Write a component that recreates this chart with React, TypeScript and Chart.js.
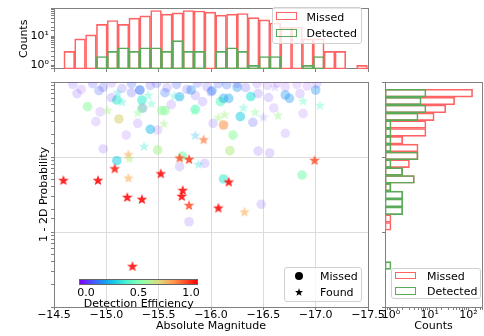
import React, { useEffect, useRef } from 'react';
import { Chart, registerables } from 'chart.js';

Chart.register(...registerables);

// ---------------- data ----------------
const magTickValues = [-14.5, -15.0, -15.5, -16.0, -16.5, -17.0, -17.5];
const efficiencyTickLabels = ['0.0', '0.5', '1.0'];

// Found (stars): magnitude, 1 - 2D probability, detection efficiency
const foundMag = [-14.59, -14.92, -15.08, -15.21, -15.2, -15.34, -15.52, -15.73, -15.72, -15.79,
  -15.7, -15.79, -15.88, -15.93, -15.36, -15.21, -15.22, -15.85, -16.17, -16.07,
  -16.32, -16.99, -15.25, -15.01, -15.11, -15.15, -15.3, -15.4, -15.43, -15.55,
  -15.65, -15.7, -15.84, -16.31, -16.07, -16.13, -16.42, -16.5, -16.64, -16.88,
  -17.04, -16.61];
const foundProb = [0.0493, 0.0493, 0.0706, 0.053, 0.0293, 0.0275, 0.0605, 0.0363, 0.0302, 0.0229,
  0.098, 0.094, 0.0807, 0.172, 0.14, 0.1087, 0.096, 0.196, 0.0469, 0.0211,
  0.0187, 0.0912, 0.00352, 0.424, 0.73, 0.547, 0.394, 0.671, 0.52, 0.281,
  0.658, 0.637, 0.415, 0.459, 0.338, 0.371, 0.402, 0.345, 0.363, 0.564,
  0.493, 0.866];
const foundEff = [1.0, 1.0, 0.97, 0.76, 1.0, 1.0, 1.0, 1.0, 1.0, 0.9,
  0.9, 0.93, 0.33, 0.85, 0.38, 0.76, 0.62, 0.25, 1.0, 1.0,
  0.76, 0.9, 1.0, 0.6, 0.3, 0.38, 0.55, 0.4, 0.45, 0.6,
  0.36, 0.36, 0.5, 0.4, 0.6, 0.6, 0.55, 0.1, 0.58, 0.45,
  0.45, 0.05];

// Missed (circles)
const missedMag = [
  -14.82, -15.12, -15.1, -15.34, -15.34, -15.53, -15.56, -15.42, -15.7, -15.81,
  -16.01, -16.09, -16.12, -16.17, -16.28, -16.12, -16.21, -16.4, -16.71, -16.75,
  -17.0, -16.38, -16.25, -15.1, -14.97, -15.49, -15.73, -15.7, -15.94, -15.79,
  -16.48, -16.12, -16.87, -16.18, -16.45, -16.56, -15.85, -15.56,
  -14.68, -14.76, -14.87, -14.97, -15.05, -15.15, -15.24, -15.32, -15.42, -15.48,
  -15.58, -15.67, -15.77, -15.87, -15.96, -16.07, -16.15, -16.25, -16.33, -16.44,
  -16.54, -16.63, -16.71, -16.82, -16.92, -17.01,
  -14.72, -14.93, -15.05, -15.24, -15.32, -15.85, -16.0, -16.45, -16.55, -16.85,
  -14.94, -14.9, -15.19, -15.3, -15.49, -15.92, -15.62, -16.02, -16.71, -16.6, -16.88, -15.35];
const missedProb = [
  0.469, 0.321, 0.575, 0.575, 0.446, 0.415, 0.415, 0.234, 0.637, 0.782,
  0.766, 0.547, 0.605, 0.605, 0.345, 0.267, 0.196, 0.29, 0.671, 0.605,
  0.782, 0.64, 0.85, 0.0893, 0.128, 0.124, 0.103, 0.0743, 0.0824, 0.0137,
  0.0234, 0.051, 0.0575, 0.1216, 0.12, 0.113, 0.432, 0.72,
  0.93, 0.8, 0.95, 0.85, 0.97, 0.82, 0.95, 0.78, 0.9, 0.96,
  0.84, 0.93, 0.8, 0.97, 0.87, 0.95, 0.92, 0.96, 0.84, 0.95,
  0.9, 0.97, 0.86, 0.93, 0.88, 0.95,
  0.7, 0.766, 0.62, 0.72, 0.782, 0.66, 0.74, 0.7, 0.62, 0.7,
  0.4, 0.296, 0.196, 0.281, 0.229, 0.547, 0.5, 0.281, 0.207, 0.45, 0.38, 0.45];
const missedEff = [
  0.55, 0.68, 0.38, 0.38, 0.52, 0.55, 0.55, 0.25, 0.2, 0.2,
  0.2, 0.45, 0.22, 0.22, 0.3, 0.8, 0.55, 0.1, 0.2, 0.2,
  0.2, 0.35, 0.2, 0.3, 0.05, 0.6, 0.5, 0.05, 0.05, 0.05,
  0.05, 0.38, 0.5, 0.62, 0.05, 0.05, 0.45, 0.15,
  0.05, 0.03, 0.08, 0.1, 0.04, 0.06, 0.12, 0.15, 0.08, 0.1,
  0.05, 0.12, 0.07, 0.09, 0.06, 0.1, 0.14, 0.05, 0.08, 0.04,
  0.03, 0.02, 0.03, 0.02, 0.02, 0.03,
  0.05, 0.12, 0.06, 0.1, 0.15, 0.05, 0.08, 0.06, 0.05, 0.04,
  0.03, 0.03, 0.03, 0.04, 0.03, 0.05, 0.04, 0.05, 0.03, 0.03, 0.03, 0.04];

// Top histogram (absolute magnitude bins)
const magBinCenters = [-14.646, -14.749, -14.853, -14.957, -15.06, -15.164, -15.267, -15.371, -15.475, -15.578,
  -15.682, -15.785, -15.889, -15.993, -16.096, -16.2, -16.303, -16.407, -16.511, -16.614,
  -16.718, -16.821, -16.925, -17.029, -17.132, -17.236, -17.339, -17.443];
const magMissedCounts = [3, 8, 11, 25, 34, 25, 41, 49, 75, 56,
  62, 75, 72, 66, 52, 56, 59, 43, 36, 28,
  20, 20, 8, 8, 3, 3, 0, 1];
const magDetectedCounts = [0, 0, 0, 2, 3, 4, 3, 4, 4, 3,
  7, 3, 3, 0, 3, 4, 3, 1, 2, 2,
  0, 0, 1, 2, 0, 0, 0, 0];

// Right histogram (1 - 2D probability bins)
const probBinCenters = [0.7096, 0.5572, 0.4385, 0.3443, 0.271, 0.2128, 0.1675, 0.1318, 0.1035, 0.08147,
  0.06397, 0.05035, 0.03954, 0.03112, 0.02443, 0.01923, 0.01514, 0.01189, 0.00935, 0.00735,
  0.00578, 0.00454, 0.00357];
const probMissedCounts = [128, 44, 26, 13, 8, 8, 2, 5, 5, 3,
  2, 4, 1, 0, 0, 0, 1, 1, 0, 0,
  0, 0, 0];
const probDetectedCounts = [8, 6, 8, 5, 1, 1, 1, 1, 5, 1,
  2, 4, 1, 2, 2, 2, 0, 0, 0, 0,
  0, 0, 1];

// ---------------- helpers ----------------
const FAMILY = "'DejaVu Sans', sans-serif";
const FONT = { family: FAMILY, size: 11 };
const AX = '#808080';
const GRID = '#dcdcdc';
const RED_EDGE = 'rgb(255,100,100)';
const GREEN_EDGE = 'rgb(90,170,90)';

Chart.defaults.font.family = FAMILY;
Chart.defaults.font.size = 11;
Chart.defaults.color = '#000';

function rainbow(t: number): number[] {
  const r = Math.min(1, Math.abs(2 * t - 0.5));
  const g = Math.sin(Math.PI * t);
  const b = Math.cos((Math.PI * t) / 2);
  return [r, g, b].map((c) => Math.round(Math.max(0, Math.min(1, c)) * 255));
}
function rgba(t: number, a: number) {
  const [r, g, b] = rainbow(t);
  return `rgba(${r},${g},${b},${a.toFixed(3)})`;
}
const circleAlpha = (e: number) => Math.min(0.6, 0.1 + e * 1.4);
const starAlpha = (e: number) => (e >= 0.88 ? 0.85 : Math.min(0.7, 0.12 + e * 0.65));

const starCache = new Map<string, HTMLCanvasElement>();
function starImage(color: string, R = 5.6): HTMLCanvasElement {
  const key = color + R;
  const cached = starCache.get(key);
  if (cached) return cached;
  const c = document.createElement('canvas');
  const s = Math.ceil(R * 2 + 2);
  c.width = s;
  c.height = s;
  const g = c.getContext('2d')!;
  const r = R * 0.42;
  const cx = s / 2;
  const cy = s / 2 + R * 0.1;
  g.beginPath();
  for (let i = 0; i < 10; i++) {
    const rad = i % 2 === 0 ? R : r;
    const a = -Math.PI / 2 + (i * Math.PI) / 5;
    const px = cx + rad * Math.cos(a);
    const py = cy + rad * Math.sin(a);
    if (i === 0) g.moveTo(px, py);
    else g.lineTo(px, py);
  }
  g.closePath();
  g.fillStyle = color;
  g.fill();
  starCache.set(key, c);
  return c;
}

const isPow10 = (v: number) => {
  const l = Math.log10(v);
  return Math.abs(l - Math.round(l)) < 1e-6;
};
const minusFmt = (v: number) => (v < 0 ? '\u2212' : '') + Math.abs(v).toFixed(1);
const supDigits = ['\u2070', '\u00b9', '\u00b2', '\u00b3'];
const powLabel = (v: number) => {
  if (!isPow10(v)) return '';
  const e = Math.round(Math.log10(v));
  return e >= 0 && e < 4 ? '10' + supDigits[e] : '';
};

const frameAxes = () => ({
  xTop: {
    type: 'linear', position: 'top', min: 0, max: 1,
    ticks: { display: false },
    grid: { drawOnChartArea: false, drawTicks: false },
    border: { color: AX, width: 1 },
    afterFit: (s: any) => { s.height = 0; },
  },
  yRight: {
    type: 'linear', position: 'right', min: 0, max: 1,
    ticks: { display: false },
    grid: { drawOnChartArea: false, drawTicks: false },
    border: { color: AX, width: 1 },
    afterFit: (s: any) => { s.width = 0; },
  },
});

const commonOpts = {
  responsive: false,
  animation: false,
  events: [] as any[],
  plugins: { legend: { display: false }, tooltip: { enabled: false } },
};

function mainConfig(): any {
  return {
    type: 'scatter',
    data: {
      datasets: [
        {
          label: 'Found',
          data: foundMag.map((m, i) => ({ x: m, y: foundProb[i] })),
          pointStyle: foundEff.map((e) => starImage(rgba(e, starAlpha(e)))),
          pointRadius: 5,
          pointHoverRadius: 5,
          order: 0,
        },
        {
          label: 'Missed',
          data: missedMag.map((m, i) => ({ x: m, y: missedProb[i] })),
          pointStyle: 'circle',
          pointRadius: 4.8,
          pointHoverRadius: 4.8,
          pointBackgroundColor: missedEff.map((e) => rgba(e, circleAlpha(e))),
          pointBorderWidth: 0,
          pointBorderColor: 'rgba(0,0,0,0)',
          order: 1,
        },
      ],
    },
    options: {
      ...commonOpts,
      layout: { padding: { left: 38, top: 82, right: 116, bottom: 0 } },
      scales: {
        x: {
          type: 'linear', position: 'bottom', min: -17.5, max: -14.5, reverse: true,
          afterBuildTicks: (s: any) => { s.ticks = magTickValues.map((v) => ({ value: v })); },
          ticks: { callback: (v: any) => minusFmt(Number(v)), autoSkip: false, maxRotation: 0, padding: -1, font: FONT, color: '#000' },
          grid: {
            color: (c: any) => (c.tick && c.tick.value > -17.49 && c.tick.value < -14.51 ? GRID : 'rgba(0,0,0,0)'),
            lineWidth: 1, tickLength: 3, tickColor: AX,
          },
          border: { color: AX, width: 1 },
          title: { display: true, text: 'Absolute Magnitude', font: FONT, color: '#000', padding: { top: 0, bottom: 3 } },
          afterFit: (s: any) => { s.height = 29; },
        },
        y: {
          type: 'logarithmic', position: 'left', min: 0.001, max: 1,
          ticks: { callback: () => '', autoSkip: false },
          grid: {
            color: (c: any) => {
              const v = c.tick ? c.tick.value : 0;
              return v && isPow10(v) && v > 0.0011 && v < 0.99 ? GRID : 'rgba(0,0,0,0)';
            },
            lineWidth: 1, tickLength: 3, tickColor: AX,
          },
          border: { color: AX, width: 1 },
          title: { display: true, text: '1 - 2D Probability', font: FONT, color: '#000', padding: { top: 0, bottom: 0 } },
          afterFit: (s: any) => { s.width = 16; },
        },
        ...frameAxes(),
      },
    },
  };
}

const histDataset = (label: string, color: string, order: number, data: any[]) => ({
  label,
  data,
  borderColor: color,
  backgroundColor: 'rgba(0,0,0,0)',
  borderWidth: 1,
  borderSkipped: false,
  grouped: false,
  barPercentage: 1,
  categoryPercentage: 1,
  order,
});

function topConfig(): any {
  const missed = magBinCenters.map((c, i) => ({ x: c, y: magMissedCounts[i] })).filter((d) => d.y > 0);
  const detected = magBinCenters.map((c, i) => ({ x: c, y: magDetectedCounts[i] })).filter((d) => d.y > 0);
  return {
    type: 'bar',
    data: {
      datasets: [
        histDataset('Missed', RED_EDGE, 1, missed),
        histDataset('Detected', GREEN_EDGE, 0, detected),
      ],
    },
    options: {
      ...commonOpts,
      indexAxis: 'x',
      layout: { padding: { left: 18, top: 3, right: 116, bottom: 264 } },
      scales: {
        x: {
          type: 'linear', position: 'bottom', min: -17.5, max: -14.5, reverse: true, offset: false,
          afterBuildTicks: (s: any) => { s.ticks = magTickValues.map((v) => ({ value: v })); },
          ticks: { callback: () => '', autoSkip: false },
          grid: { offset: false, drawOnChartArea: false, tickLength: 3, tickColor: AX },
          border: { color: AX, width: 1 },
          afterFit: (s: any) => { s.height = 3; },
        },
        y: {
          type: 'logarithmic', position: 'left', min: 0.75, max: 87,
          ticks: { callback: (v: any) => powLabel(Number(v)), autoSkip: false, padding: 2, font: FONT, color: '#000' },
          grid: { drawOnChartArea: false, tickLength: 3, tickColor: AX },
          border: { color: AX, width: 1 },
          title: { display: true, text: 'Counts', font: FONT, color: '#000', padding: { top: 0, bottom: 0 } },
          afterFit: (s: any) => { s.width = 36; },
        },
        ...frameAxes(),
      },
    },
  };
}

function rightConfig(): any {
  const missed = probBinCenters.map((c, i) => ({ x: probMissedCounts[i], y: c })).filter((d) => d.x > 0);
  const detected = probBinCenters.map((c, i) => ({ x: probDetectedCounts[i], y: c })).filter((d) => d.x > 0);
  return {
    type: 'bar',
    data: {
      datasets: [
        histDataset('Missed', RED_EDGE, 1, missed),
        histDataset('Detected', GREEN_EDGE, 0, detected),
      ],
    },
    options: {
      ...commonOpts,
      indexAxis: 'y',
      layout: { padding: { left: 381, top: 82, right: 2, bottom: 0 } },
      scales: {
        y: {
          type: 'logarithmic', position: 'left', min: 0.001, max: 1, offset: false,
          afterBuildTicks: (s: any) => { s.ticks = [0.001, 0.01, 0.1, 1].map((v) => ({ value: v })); },
          ticks: { callback: () => '', autoSkip: false },
          grid: { offset: false, drawOnChartArea: false, tickLength: 3, tickColor: AX },
          border: { color: AX, width: 1 },
          afterFit: (s: any) => { s.width = 4; },
        },
        x: {
          type: 'logarithmic', position: 'bottom', min: 0.72, max: 224,
          ticks: { callback: (v: any) => powLabel(Number(v)), autoSkip: false, maxRotation: 0, padding: -1, font: FONT, color: '#000' },
          grid: { drawOnChartArea: false, tickLength: 3, tickColor: AX },
          border: { color: AX, width: 1 },
          title: { display: true, text: 'Counts', font: FONT, color: '#000', padding: { top: 0, bottom: 3 } },
          afterFit: (s: any) => { s.height = 29; },
        },
        ...frameAxes(),
      },
    },
  };
}

// ---------------- overlay pieces ----------------
const textStyle = (left: number, top: number, center = true): React.CSSProperties => ({
  position: 'absolute',
  left,
  top,
  transform: center ? 'translate(-50%, -50%)' : 'translate(0, -50%)',
  font: `11px ${FAMILY}`,
  lineHeight: '13px',
  whiteSpace: 'nowrap',
  color: '#000',
});

const boxStyle = (left: number, top: number, width: number, height: number): React.CSSProperties => ({
  position: 'absolute',
  left,
  top,
  width,
  height,
  boxSizing: 'border-box',
  background: 'rgba(255,255,255,0.8)',
  border: '1px solid #d0d0d0',
  borderRadius: 3,
});

const patchStyle = (left: number, top: number, color: string): React.CSSProperties => ({
  position: 'absolute',
  left,
  top,
  width: 21,
  height: 7.5,
  boxSizing: 'border-box',
  border: `1.2px solid ${color}`,
});

function StarIcon({ x, y }: { x: number; y: number }) {
  const R = 4.2;
  const r = R * 0.42;
  const pts: string[] = [];
  for (let i = 0; i < 10; i++) {
    const rad = i % 2 === 0 ? R : r;
    const a = -Math.PI / 2 + (i * Math.PI) / 5;
    pts.push(`${(5 + rad * Math.cos(a)).toFixed(2)},${(5.4 + rad * Math.sin(a)).toFixed(2)}`);
  }
  return (
    <svg width={10} height={10} style={{ position: 'absolute', left: x - 5, top: y - 5 }}>
      <polygon points={pts.join(' ')} fill="#000" />
    </svg>
  );
}

export default function App() {
  const mainRef = useRef<HTMLCanvasElement>(null);
  const topRef = useRef<HTMLCanvasElement>(null);
  const rightRef = useRef<HTMLCanvasElement>(null);

  useEffect(() => {
    const charts = [
      new Chart(mainRef.current!, mainConfig()),
      new Chart(topRef.current!, topConfig()),
      new Chart(rightRef.current!, rightConfig()),
    ];
    return () => charts.forEach((c) => c.destroy());
  }, []);

  const canvasStyle: React.CSSProperties = { position: 'absolute', left: 0, top: 0, width: 484, height: 336 };
  const gradStops = Array.from({ length: 11 }, (_, i) => {
    const [r, g, b] = rainbow(i / 10);
    return `rgb(${r},${g},${b}) ${i * 10}%`;
  }).join(', ');
  const cbTickX = [86, 138.5, 191];

  return (
    <div style={{ position: 'fixed', left: 0, top: 0, width: 484, height: 336, background: '#fff', overflow: 'hidden' }}>
      <canvas ref={mainRef} width={484} height={336} style={canvasStyle} />
      <canvas ref={topRef} width={484} height={336} style={canvasStyle} />
      <canvas ref={rightRef} width={484} height={336} style={canvasStyle} />

      {/* top histogram legend */}
      <div style={boxStyle(271.5, 6.5, 90.5, 37)} />
      <div style={patchStyle(275.7, 12.3, RED_EDGE)} />
      <div style={textStyle(306.5, 16.7, false)}>Missed</div>
      <div style={patchStyle(275.7, 29, GREEN_EDGE)} />
      <div style={textStyle(306.5, 33.3, false)}>Detected</div>

      {/* right histogram legend */}
      <div style={boxStyle(390.5, 268, 90, 31)} />
      <div style={patchStyle(395, 271.7, RED_EDGE)} />
      <div style={textStyle(427, 275.5, false)}>Missed</div>
      <div style={patchStyle(395, 287, GREEN_EDGE)} />
      <div style={textStyle(427, 291.3, false)}>Detected</div>

      {/* main legend */}
      <div style={boxStyle(284, 267.3, 78, 35)} />
      <div style={{ position: 'absolute', left: 295.3, top: 271.7, width: 8, height: 8, borderRadius: '50%', background: '#000' }} />
      <div style={textStyle(320, 276, false)}>Missed</div>
      <StarIcon x={299.3} y={291.5} />
      <div style={textStyle(320, 291.5, false)}>Found</div>

      {/* colour bar */}
      <div
        style={{
          position: 'absolute', left: 79.3, top: 278.7, width: 119, height: 6.5, boxSizing: 'border-box',
          background: `linear-gradient(to right, ${gradStops})`, border: '0.8px solid #666',
        }}
      />
      {efficiencyTickLabels.map((t, i) => (
        <div key={t} style={textStyle(cbTickX[i], 291.7)}>{t}</div>
      ))}
      <div style={textStyle(138.7, 303.3)}>Detection Efficiency</div>
    </div>
  );
}
